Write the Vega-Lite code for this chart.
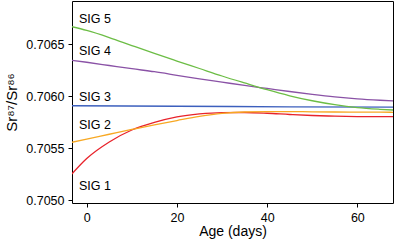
{
  "$schema": "https://vega.github.io/schema/vega-lite/v6.json",
  "width": 321,
  "height": 202,
  "autosize": {"type": "none"},
  "padding": {"left": 72, "top": 1, "right": 2, "bottom": 42},
  "background": "white",
  "config": {
    "font": "Liberation Sans",
    "view": {"stroke": "#000000", "strokeWidth": 1},
    "axis": {
      "grid": false,
      "domainColor": "#000000",
      "tickColor": "#000000",
      "labelColor": "#000000",
      "titleColor": "#000000",
      "labelFont": "Liberation Sans",
      "titleFont": "Liberation Sans",
      "labelFontSize": 12.5,
      "titleFontSize": 14,
      "titleFontWeight": "normal",
      "tickSize": 4
    }
  },
  "datasets": {
    "curves": [
      {"s": "SIG 1", "d": -3.3, "v": 0.705252},
      {"s": "SIG 1", "d": 0, "v": 0.705401},
      {"s": "SIG 1", "d": 5, "v": 0.70556},
      {"s": "SIG 1", "d": 10, "v": 0.705675},
      {"s": "SIG 1", "d": 15, "v": 0.705747},
      {"s": "SIG 1", "d": 20, "v": 0.7058},
      {"s": "SIG 1", "d": 25, "v": 0.705829},
      {"s": "SIG 1", "d": 30, "v": 0.705842},
      {"s": "SIG 1", "d": 35, "v": 0.705843},
      {"s": "SIG 1", "d": 40, "v": 0.705836},
      {"s": "SIG 1", "d": 45, "v": 0.705824},
      {"s": "SIG 1", "d": 50, "v": 0.705814},
      {"s": "SIG 1", "d": 55, "v": 0.705808},
      {"s": "SIG 1", "d": 60, "v": 0.705804},
      {"s": "SIG 1", "d": 65, "v": 0.705803},
      {"s": "SIG 1", "d": 68, "v": 0.705803},
      {"s": "SIG 2", "d": -3.3, "v": 0.705557},
      {"s": "SIG 2", "d": 0, "v": 0.705588},
      {"s": "SIG 2", "d": 5, "v": 0.705634},
      {"s": "SIG 2", "d": 10, "v": 0.70568},
      {"s": "SIG 2", "d": 15, "v": 0.705725},
      {"s": "SIG 2", "d": 20, "v": 0.705766},
      {"s": "SIG 2", "d": 25, "v": 0.705805},
      {"s": "SIG 2", "d": 30, "v": 0.705834},
      {"s": "SIG 2", "d": 35, "v": 0.705848},
      {"s": "SIG 2", "d": 40, "v": 0.705851},
      {"s": "SIG 2", "d": 45, "v": 0.705851},
      {"s": "SIG 2", "d": 50, "v": 0.70585},
      {"s": "SIG 2", "d": 55, "v": 0.705848},
      {"s": "SIG 2", "d": 60, "v": 0.705847},
      {"s": "SIG 2", "d": 65, "v": 0.705846},
      {"s": "SIG 2", "d": 68, "v": 0.705845},
      {"s": "SIG 3", "d": -3.3, "v": 0.705908},
      {"s": "SIG 3", "d": 20, "v": 0.705903},
      {"s": "SIG 3", "d": 45, "v": 0.705898},
      {"s": "SIG 3", "d": 68, "v": 0.705894},
      {"s": "SIG 4", "d": -3.3, "v": 0.706345},
      {"s": "SIG 4", "d": 0, "v": 0.706326},
      {"s": "SIG 4", "d": 5, "v": 0.706295},
      {"s": "SIG 4", "d": 10, "v": 0.706264},
      {"s": "SIG 4", "d": 15, "v": 0.706235},
      {"s": "SIG 4", "d": 20, "v": 0.706201},
      {"s": "SIG 4", "d": 25, "v": 0.706167},
      {"s": "SIG 4", "d": 30, "v": 0.706135},
      {"s": "SIG 4", "d": 35, "v": 0.706103},
      {"s": "SIG 4", "d": 40, "v": 0.706074},
      {"s": "SIG 4", "d": 45, "v": 0.706045},
      {"s": "SIG 4", "d": 50, "v": 0.706018},
      {"s": "SIG 4", "d": 55, "v": 0.705994},
      {"s": "SIG 4", "d": 60, "v": 0.705975},
      {"s": "SIG 4", "d": 65, "v": 0.705961},
      {"s": "SIG 4", "d": 68, "v": 0.705954},
      {"s": "SIG 5", "d": -3.3, "v": 0.706668},
      {"s": "SIG 5", "d": 0, "v": 0.706632},
      {"s": "SIG 5", "d": 5, "v": 0.706564},
      {"s": "SIG 5", "d": 10, "v": 0.706487},
      {"s": "SIG 5", "d": 15, "v": 0.706411},
      {"s": "SIG 5", "d": 20, "v": 0.706338},
      {"s": "SIG 5", "d": 25, "v": 0.706266},
      {"s": "SIG 5", "d": 30, "v": 0.706194},
      {"s": "SIG 5", "d": 35, "v": 0.706127},
      {"s": "SIG 5", "d": 40, "v": 0.706062},
      {"s": "SIG 5", "d": 45, "v": 0.706004},
      {"s": "SIG 5", "d": 50, "v": 0.705956},
      {"s": "SIG 5", "d": 55, "v": 0.705918},
      {"s": "SIG 5", "d": 60, "v": 0.70589},
      {"s": "SIG 5", "d": 65, "v": 0.705874},
      {"s": "SIG 5", "d": 68, "v": 0.705867}
    ],
    "labels": [
      {"t": "SIG 5", "d": -1.7, "v": 0.706742},
      {"t": "SIG 4", "d": -1.7, "v": 0.706431},
      {"t": "SIG 3", "d": -1.7, "v": 0.705988},
      {"t": "SIG 2", "d": -1.7, "v": 0.70572},
      {"t": "SIG 1", "d": -1.7, "v": 0.705134}
    ]
  },
  "layer": [
    {
      "data": {"name": "curves"},
      "mark": {"type": "line", "interpolate": "monotone", "strokeWidth": 1.3, "clip": true},
      "encoding": {
        "x": {
          "field": "d", "type": "quantitative",
          "scale": {"domain": [-3.26, 67.9], "nice": false, "zero": false},
          "axis": {"values": [0, 20, 40, 60], "title": "Age (days)", "labelPadding": 4, "titleY": 28.5, "titleBaseline": "middle", "domain": false}
        },
        "y": {
          "field": "v", "type": "quantitative",
          "scale": {"domain": [0.704973, 0.706915], "nice": false, "zero": false},
          "axis": {"values": [0.705, 0.7055, 0.706, 0.7065], "format": ".4f", "title": "Sr⁸⁷/Sr⁸⁶", "labelPadding": 4, "titleX": -61, "titleY": 101, "titleAngle": -90, "titleAlign": "center", "titleBaseline": "middle", "titleFontSize": 15, "domain": false}
        },
        "color": {
          "field": "s", "type": "nominal",
          "scale": {"domain": ["SIG 1", "SIG 2", "SIG 3", "SIG 4", "SIG 5"], "range": ["#e8232b", "#f7a823", "#3c5fbd", "#8a52a6", "#6cbd45"]},
          "legend": null
        }
      }
    },
    {
      "data": {"name": "labels"},
      "mark": {"type": "text", "align": "left", "baseline": "middle", "fontSize": 12.5, "font": "Liberation Sans", "color": "#000000"},
      "encoding": {
        "x": {"field": "d", "type": "quantitative"},
        "y": {"field": "v", "type": "quantitative"},
        "text": {"field": "t"}
      }
    }
  ]
}
